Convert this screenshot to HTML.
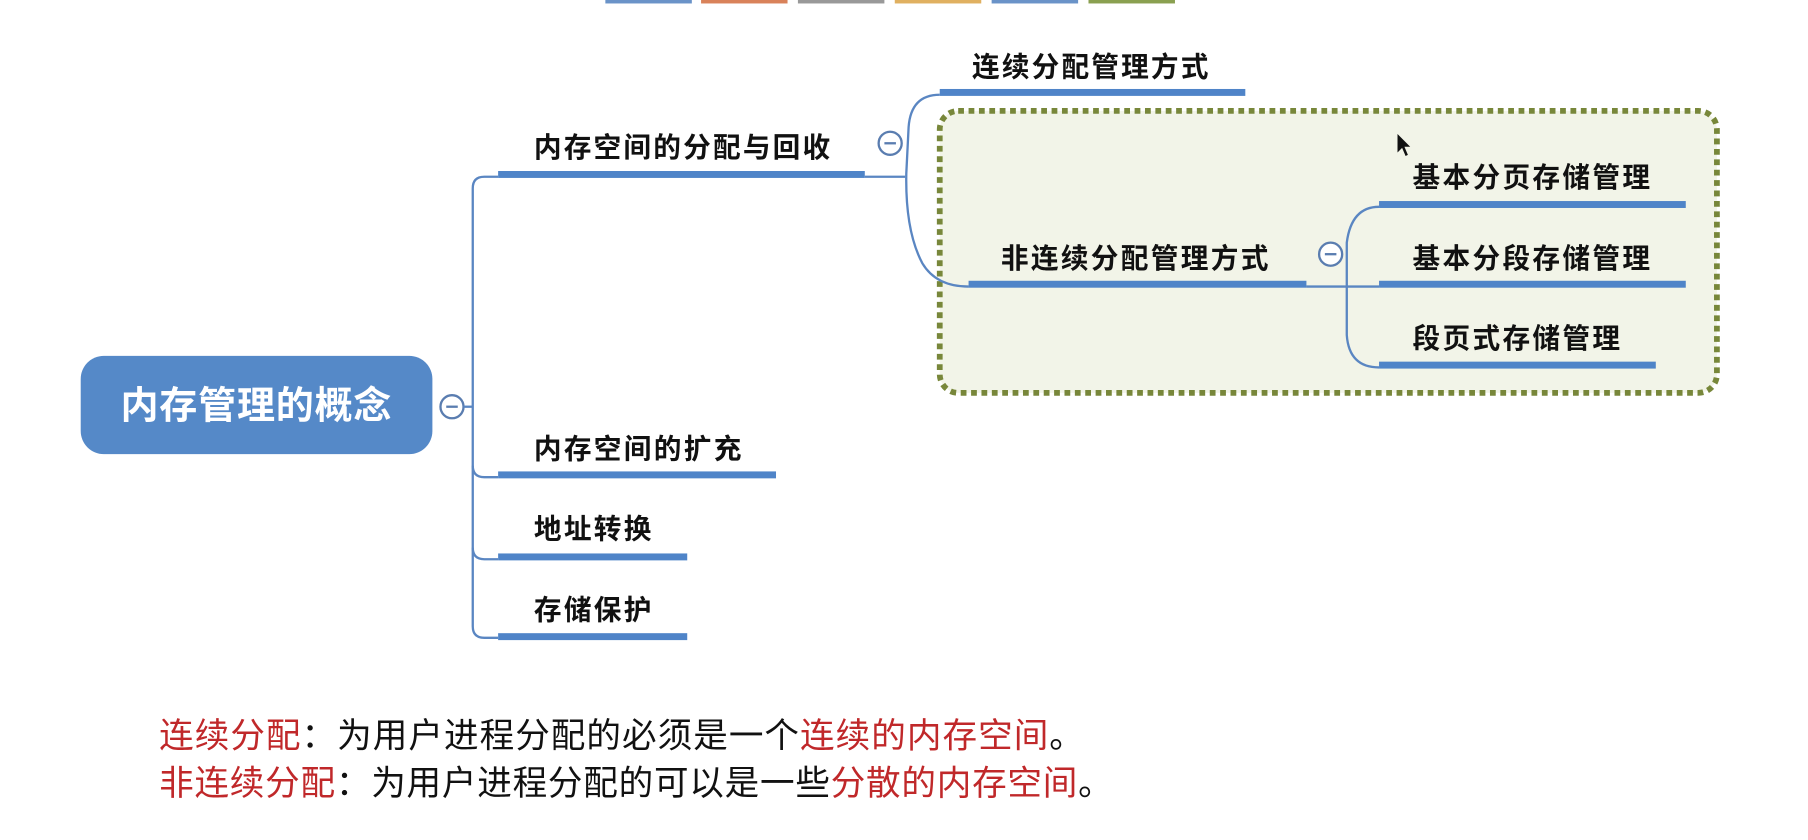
<!DOCTYPE html>
<html><head><meta charset="utf-8"><style>
html,body{margin:0;padding:0;background:#fff;width:1808px;height:840px;overflow:hidden}
svg{display:block}
text{font-family:"Liberation Sans","Noto Sans CJK SC",sans-serif}
</style></head><body>
<svg width="1808" height="840" viewBox="0 0 1568 727" preserveAspectRatio="none" xmlns="http://www.w3.org/2000/svg">
<g>
<rect x="525" y="0" width="75" height="3" fill="#6a93c8"/>
<rect x="608" y="0" width="75" height="3" fill="#d9825a"/>
<rect x="692" y="0" width="75" height="3" fill="#999"/>
<rect x="776" y="0" width="75" height="3" fill="#e0b060"/>
<rect x="860" y="0" width="75" height="3" fill="#6a93c8"/>
<rect x="944" y="0" width="75" height="3" fill="#8aa050"/>
</g>
<rect x="815" y="96" width="674" height="244" rx="16" fill="#f2f4e8" stroke="#78873a" stroke-width="5" stroke-dasharray="5 4"/>
<rect x="70" y="308" width="305" height="85" rx="20" fill="#5589c8"/>
<text x="222" y="362" font-size="33" font-weight="bold" fill="#fff" text-anchor="middle" textLength="235">内存管理的概念</text>
<circle cx="392" cy="352" r="10" fill="#fff" stroke="#5a7db0" stroke-width="2"/>
<line x1="387" y1="352" x2="397" y2="352" stroke="#5a7db0" stroke-width="2"/>
<g fill="none" stroke="#5a86c2" stroke-width="2">
<path d="M402 352 H410"/>
<path d="M432 153 H420 Q410 153 410 163 V542 Q410 552 420 552 H432"/>
<path d="M410 403 Q410 413 420 413 H432"/>
<path d="M410 474 Q410 484 420 484 H432"/>
<path d="M750 153 H785"/>
<path d="M815 82 Q790 82 788 110 L786 150 Q785 200 800 228 Q812 248 840 248"/>
<path d="M1133 248 H1166"/>
<path d="M1196 179 Q1172 179 1168 210 V290 Q1170 318 1196 318"/>
<path d="M1166 248 H1196"/>
</g>
<g fill="#4f84c8">
<rect x="432" y="148" width="318" height="6"/>
<rect x="815" y="77" width="265" height="6"/>
<rect x="840" y="243" width="293" height="6"/>
<rect x="1196" y="174" width="266" height="6"/>
<rect x="1196" y="243" width="266" height="6"/>
<rect x="1196" y="313" width="240" height="6"/>
<rect x="432" y="408" width="241" height="6"/>
<rect x="432" y="479" width="164" height="6"/>
<rect x="432" y="548" width="164" height="6"/>
</g>
<g fill="#fff" stroke="#5a7db0" stroke-width="2">
<circle cx="772" cy="124" r="10"/>
<circle cx="1154" cy="220" r="10"/>
</g>
<g stroke="#5a7db0" stroke-width="2"><line x1="767" y1="124" x2="777" y2="124"/><line x1="1149" y1="220" x2="1159" y2="220"/></g>
<g font-size="24" fill="#111" font-weight="bold">
<text x="463" y="136" textLength="257">内存空间的分配与回收</text>
<text x="843" y="66" textLength="205">连续分配管理方式</text>
<text x="868" y="232" textLength="232">非连续分配管理方式</text>
<text x="1225" y="162" textLength="206">基本分页存储管理</text>
<text x="1225" y="232" textLength="206">基本分段存储管理</text>
<text x="1225" y="301" textLength="180">段页式存储管理</text>
<text x="463" y="397" textLength="180">内存空间的扩充</text>
<text x="463" y="466" textLength="102">地址转换</text>
<text x="463" y="536" textLength="102">存储保护</text>
</g>
<g font-size="30" fill="#111">
<text x="138" y="647" textLength="802"><tspan fill="#c0282a">连续分配</tspan>：为用户进程分配的必须是一个<tspan fill="#c0282a">连续的内存空间</tspan>。</text>
<text x="138" y="688" textLength="827"><tspan fill="#c0282a">非连续分配</tspan>：为用户进程分配的可以是一些<tspan fill="#c0282a">分散的内存空间</tspan>。</text>
</g>
<path d="M1212 116 L1212 132 L1216 128 L1219 135 L1221 134 L1218 127 L1223 127 Z" fill="#111"/>
</svg>
</body></html>
